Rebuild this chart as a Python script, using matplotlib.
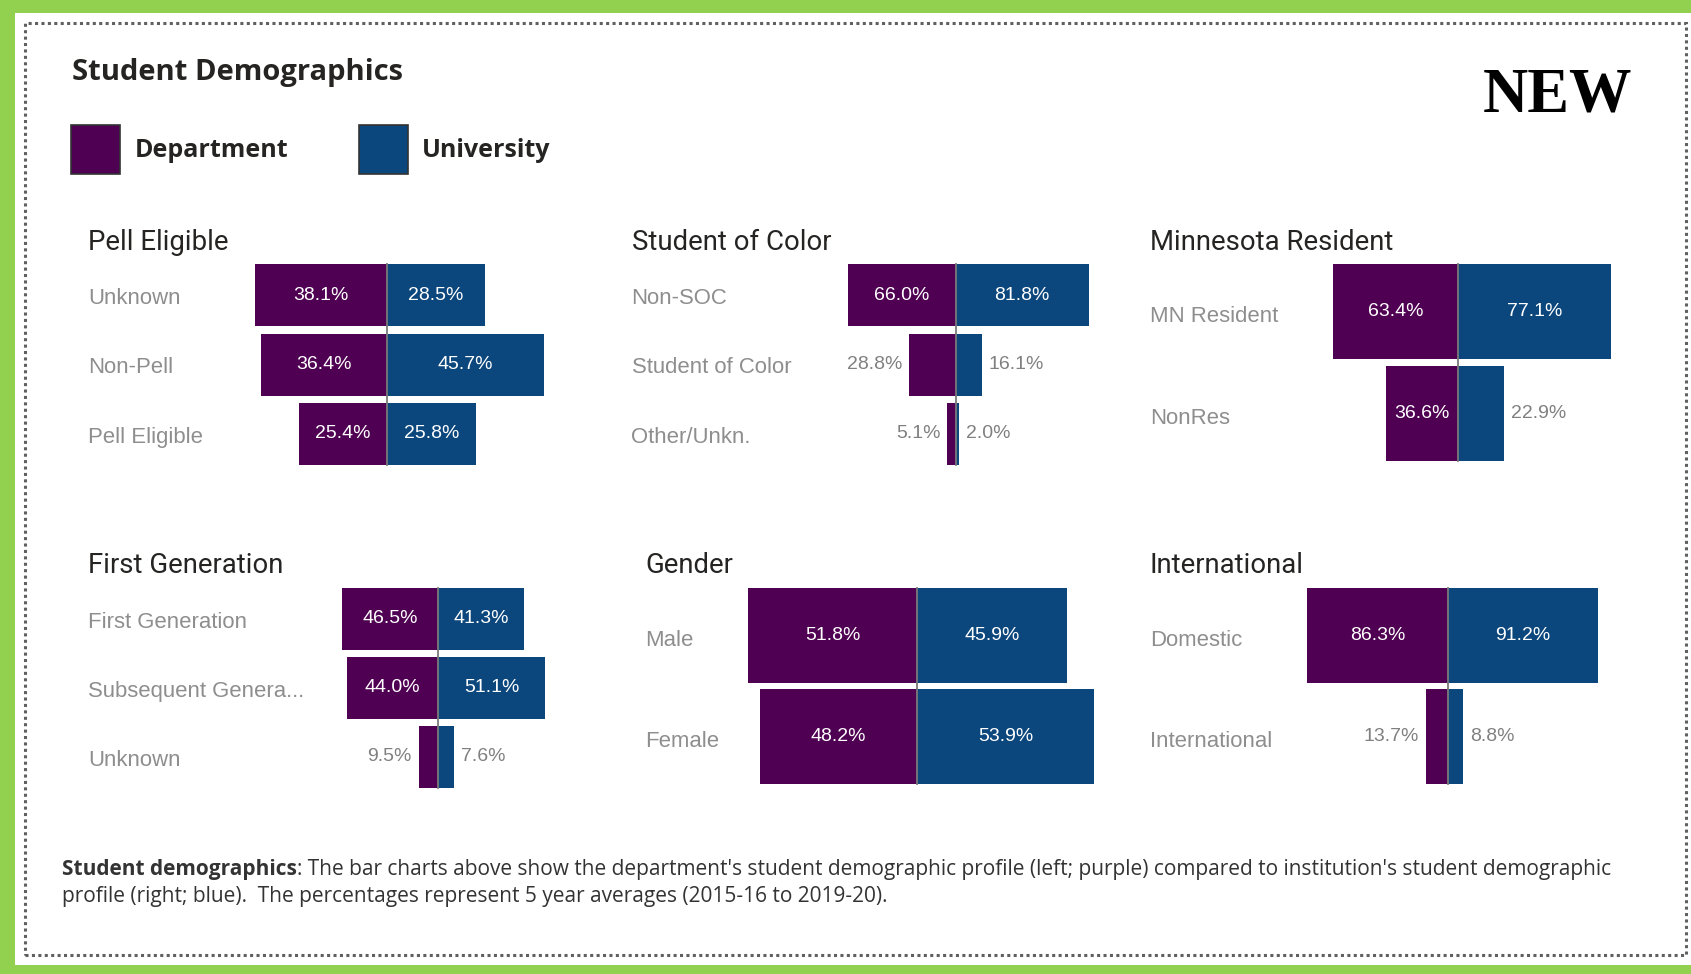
import matplotlib
matplotlib.use("Agg")
import matplotlib.pyplot as plt
from matplotlib.patches import Rectangle
from matplotlib.transforms import blended_transform_factory

W, H = 1691, 974

# data
pell_cats = ["Unknown", "Non-Pell", "Pell Eligible"]
pell_dept = [38.1, 36.4, 25.4]
pell_univ = [28.5, 45.7, 25.8]

soc_cats = ["Non-SOC", "Student of Color", "Other/Unkn."]
soc_dept = [66.0, 28.8, 5.1]
soc_univ = [81.8, 16.1, 2.0]

mn_cats = ["MN Resident", "NonRes"]
mn_dept = [63.4, 36.6]
mn_univ = [77.1, 22.9]

fg_cats = ["First Generation", "Subsequent Genera...", "Unknown"]
fg_dept = [46.5, 44.0, 9.5]
fg_univ = [41.3, 51.1, 7.6]

gender_cats = ["Male", "Female"]
gender_dept = [51.8, 48.2]
gender_univ = [45.9, 53.9]

intl_cats = ["Domestic", "International"]
intl_dept = [86.3, 13.7]
intl_univ = [91.2, 8.8]

purple = "#4f0052"
blue = "#0b467c"
dark = "#252423"
cat_gray = "#8e8e8e"
val_gray = "#808080"

fig = plt.figure(figsize=(W / 100, H / 100), dpi=100)
fig.patch.set_facecolor("white")


def px(x, y):
    return x / W, 1 - y / H


# green frame + dotted border
green = "#92d050"
fig.patches.append(Rectangle((0, 1 - 12.7 / H), 1, 12.7 / H, transform=fig.transFigure, color=green, lw=0))
fig.patches.append(Rectangle((0, 0), 14.5 / W, 1, transform=fig.transFigure, color=green, lw=0))
fig.patches.append(Rectangle((0, 0), 1, 9 / H, transform=fig.transFigure, color=green, lw=0))
fig.patches.append(Rectangle(px(25, 955), (1686 - 25) / W, (955 - 22.7) / H, transform=fig.transFigure,
                             fill=False, ec="#606060", lw=2.2, ls=(0, (1, 1.1))))

# header
fig.text(*px(72, 80), "Student Demographics", fontsize=21, fontweight="bold",
         family="Open Sans", color=dark, va="baseline")
for x0, col, name in [(70.8, purple, "Department"), (358.6, blue, "University")]:
    fig.patches.append(Rectangle(px(x0, 174), 49 / W, 49 / H, transform=fig.transFigure,
                                 fc=col, ec="#333333", lw=1.2))
    fig.text(*px(x0 + 63.5, 157), name, fontsize=18, fontweight="bold",
             family="Open Sans", color=dark, va="baseline")
fig.text(*px(1483, 112), "NEW", fontsize=45, fontweight="bold", family="Liberation Serif",
         color="black", va="baseline")


def draw_panel(title, cats, dept, univ, tx, ty, cx, scale, top, bh, pitch):
    n = len(cats)
    gap = pitch - bh
    half = 240
    y0 = top - gap / 2
    y1 = y0 + n * pitch
    ax = fig.add_axes([(cx - half) / W, 1 - y1 / H, 2 * half / W, (y1 - y0) / H])
    ax.set_xlim(-half / scale, half / scale)
    ax.set_ylim(n - 0.5, -0.5)
    ax.axis("off")
    rows = list(range(n))
    ax.barh(rows, [-v for v in dept], height=bh / pitch, color=purple, lw=0)
    ax.barh(rows, univ, height=bh / pitch, color=blue, lw=0)
    f = gap / 2 / (n * pitch)
    ax.axvline(0, ymin=f, ymax=1 - f, color="#7a7a7a", lw=1.3)

    fig.text(*px(tx, ty), title, fontsize=19.8, family="Roboto", color=dark, va="baseline")
    tr = blended_transform_factory(fig.transFigure, ax.transData)
    for i, c in enumerate(cats):
        ax.text(tx / W, i + 0.05, c, transform=tr, fontsize=15.9, family="Liberation Sans",
                color=cat_gray, va="center", ha="left")
    for i in rows:
        for v, sign in [(dept[i], -1), (univ[i], 1)]:
            lab = f"{v:.1f}%"
            if v * scale >= 60:
                ax.text(sign * v / 2, i, lab, color="white", fontsize=14,
                        family="Liberation Sans", ha="center", va="center")
            else:
                ax.annotate(lab, (sign * v, i), xytext=(sign * 5, 0), textcoords="offset points",
                            color=val_gray, fontsize=14, family="Liberation Sans",
                            ha="left" if sign > 0 else "right", va="center")


draw_panel("Pell Eligible", pell_cats, pell_dept, pell_univ, 88.5, 250, 386.7, 3.45, 264, 62, 69.5)
draw_panel("Student of Color", soc_cats, soc_dept, soc_univ, 631.5, 250, 955.7, 1.625, 264, 62, 69.5)
draw_panel("Minnesota Resident", mn_cats, mn_dept, mn_univ, 1150, 250, 1458.4, 1.98, 264, 95, 102)
draw_panel("First Generation", fg_cats, fg_dept, fg_univ, 88.5, 573, 438.3, 2.08, 587.7, 62, 69)
draw_panel("Gender", gender_cats, gender_dept, gender_univ, 645, 573, 917.3, 3.27, 587.7, 95, 101.5)
draw_panel("International", intl_cats, intl_dept, intl_univ, 1150, 573, 1448.4, 1.64, 587.7, 95, 101.5)

# caption
cap_color = "#333333"
bold = fig.text(*px(62, 875), "Student demographics", fontsize=15, fontweight="bold",
                family="Open Sans", color=cap_color, va="baseline")
plt.annotate(": The bar charts above show the department's student demographic profile (left; purple) "
             "compared to institution's student demographic",
             xy=(1, 0), xycoords=bold, va="bottom", ha="left", fontsize=15, family="Open Sans",
             color=cap_color, annotation_clip=False)
fig.text(*px(62, 902), "profile (right; blue).  The percentages represent 5 year averages (2015-16 to 2019-20).",
         fontsize=15, family="Open Sans", color=cap_color, va="baseline")

fig.savefig("out.png", dpi=100, facecolor="white")
